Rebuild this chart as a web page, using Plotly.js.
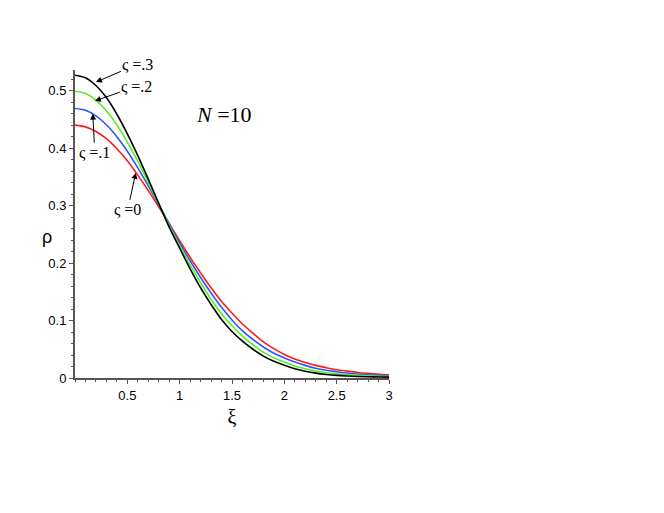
<!DOCTYPE html>
<html>
<head>
<meta charset="utf-8">
<script src="https://cdn.plot.ly/plotly-3.0.1.min.js"></script>
<style>html,body{margin:0;padding:0;background:#fff;}#chart{width:664px;height:513px;}</style>
</head>
<body>
<div id="chart"></div>
<script>
const xi = [0,0.1,0.2,0.3,0.4,0.5,0.6,0.7,0.8,0.9,1.0,1.1,1.2,1.3,1.4,1.5,1.6,1.7,1.8,1.9,2.0,2.1,2.2,2.3,2.4,2.5,2.6,2.7,2.8,2.9,3.0];
const rho_s0  = [0.440,0.437,0.429,0.4165,0.399,0.378,0.353,0.326,0.298,0.269,0.239,0.210,0.183,0.157,0.133,0.113,0.094,0.078,0.063,0.051,0.041,0.033,0.027,0.022,0.018,0.0145,0.012,0.0097,0.008,0.0066,0.0056];
const rho_s1  = [0.469,0.4658,0.4562,0.4408,0.420,0.3947,0.3658,0.3344,0.3016,0.2682,0.235,0.204,0.175,0.148,0.123,0.101,0.082,0.067,0.054,0.043,0.035,0.028,0.022,0.017,0.0135,0.011,0.0087,0.007,0.0056,0.0046,0.0038];
const rho_s2  = [0.499,0.495,0.4837,0.465,0.4405,0.4106,0.3768,0.3405,0.3029,0.2653,0.230,0.197,0.166,0.137,0.112,0.091,0.073,0.058,0.045,0.035,0.028,0.021,0.016,0.012,0.0092,0.0071,0.0056,0.0045,0.0037,0.003,0.0026];
const rho_s3  = [0.527,0.5225,0.509,0.488,0.459,0.425,0.387,0.346,0.304,0.2626,0.226,0.190,0.157,0.128,0.102,0.081,0.064,0.050,0.038,0.029,0.022,0.016,0.0118,0.0085,0.0062,0.0045,0.0034,0.0026,0.0021,0.0017,0.0015];
const seriesNames = ['ς =0','ς =.1','ς =.2','ς =.3'];
const seriesColors = ['#ff1a1a','#2f55ff','#55f022','#000000'];
const xTicks = [0.5,1,1.5,2,2.5,3];
const xTickText = ['0.5','1','1.5','2','2.5','3'];
const yTicks = [0,0.1,0.2,0.3,0.4,0.5];
const yTickText = ['0','0.1','0.2','0.3','0.4','0.5'];

const allY = [rho_s0, rho_s1, rho_s2, rho_s3];
const traces = allY.map((ys, i) => ({
  x: xi, y: ys, type: 'scatter', mode: 'lines', name: seriesNames[i],
  line: {color: seriesColors[i], width: 1.6, shape: 'spline', smoothing: 1.0}
}));

const serif = {family: 'Liberation Serif, Times New Roman, serif', size: 16, color: '#000'};
function arrowNote(text, xi0, yi0, ax, ay) {
  return {x: xi0, y: yi0, xref: 'x', yref: 'y', text: text, showarrow: true,
    arrowhead: 2, arrowsize: 1.2, arrowwidth: 1, arrowcolor: '#000',
    ax: ax, ay: ay, font: serif};
}

const layout = {
  width: 664, height: 513,
  margin: {l: 75, r: 275, t: 70, b: 135},
  paper_bgcolor: '#fff', plot_bgcolor: '#fff',
  showlegend: false,
  font: {family: 'Liberation Sans, Arial, sans-serif', size: 13, color: '#000'},
  xaxis: {
    range: [0, 3], showgrid: false, zeroline: false,
    showline: true, linecolor: '#555', linewidth: 2,
    ticks: 'outside', ticklen: 4, tickcolor: '#555', tickwidth: 1,
    tickvals: xTicks, ticktext: xTickText,
    minor: {dtick: 0.1, ticks: 'outside', ticklen: 2, tickcolor: '#555', showgrid: false},
    title: {text: 'ξ', font: {family: 'Liberation Serif, Times New Roman, serif', size: 20}, standoff: 8}
  },
  yaxis: {
    range: [0, 0.536], showgrid: false, zeroline: false,
    showline: true, linecolor: '#555', linewidth: 2,
    ticks: 'outside', ticklen: 4, tickcolor: '#555', tickwidth: 1,
    tickvals: yTicks, ticktext: yTickText,
    minor: {dtick: 0.02, ticks: 'outside', ticklen: 2, tickcolor: '#555', showgrid: false}
  },
  annotations: [
    {x: -0.11, y: 0.245, xref: 'paper', yref: 'y', text: 'ρ', showarrow: false,
     font: {family: 'Liberation Sans, Arial, sans-serif', size: 18}},
    {x: 1.42, y: 0.459, xref: 'x', yref: 'y', text: '<i>N</i> =10', showarrow: false,
     font: {family: 'Liberation Serif, Times New Roman, serif', size: 22}},
    arrowNote(seriesNames[3], 0.2, 0.515, 42, -18),
    arrowNote(seriesNames[2], 0.19, 0.482, 42, -15),
    arrowNote(seriesNames[1], 0.17, 0.46, 2, 39),
    arrowNote(seriesNames[0], 0.58, 0.357, -8, 37)
  ]
};

Plotly.newPlot('chart', traces, layout, {displayModeBar: false, staticPlot: true});
</script>
</body>
</html>
